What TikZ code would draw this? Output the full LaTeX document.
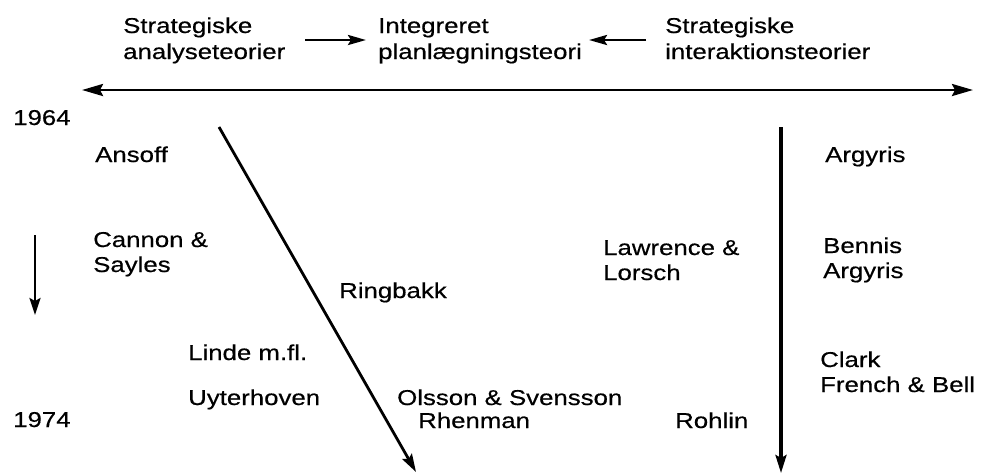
\documentclass[tikz,border=0pt]{standalone}
\usepackage{fontspec}
\setmainfont{Liberation Sans}[FakeStretch=1.2,FakeBold=0.5]
\usetikzlibrary{arrows.meta}
\begin{document}
\begin{tikzpicture}[x=1pt,y=-1pt,
  lbl/.style={anchor=base west,inner sep=0pt,font=\fontsize{21.5}{25}\selectfont},
  tip/.style={-{Stealth[length=18pt,width=11pt,inset=3pt]}},
  arr/.style={line width=2.8pt,tip},
  harr/.style={line width=2.8pt,-{Stealth[length=18pt,width=10pt,inset=3pt]}}]
\useasboundingbox (0,0) rectangle (983,475);
% heading
\node[lbl] (sa1) at (123,33) {Strategiske};
\node[lbl] (sa2) at (123,59) {analyseteorier};
\node[lbl] (ip1) at (378,33) {Integreret};
\node[lbl] (ip2) at (378,59) {planlægningsteori};
\node[lbl] (si1) at (665,33) {Strategiske};
\node[lbl] (si2) at (665,59) {interaktionsteorier};
\coordinate (a1s) at (305,40);
\coordinate (a1e) at (366,40);
\coordinate (a2s) at (646,40);
\coordinate (a2e) at (589,40);
\draw[harr] (a1s) -- (a1e);
\draw[harr] (a2s) -- (a2e);
% double arrow
\coordinate (dl) at (82,90);
\coordinate (dr) at (973,90);
\draw[line width=2.8pt,{Stealth[length=21pt,width=12pt,inset=3pt]}-{Stealth[length=21pt,width=12pt,inset=3pt]}] (dl) -- (dr);
% years
\node[lbl] (y64) at (13,125) {1964};
\node[lbl] (y74) at (13,427) {1974};
\coordinate (ts) at (35,235);
\coordinate (te) at (35,315);
\draw[line width=2.6pt,-{Stealth[length=17pt,width=11pt,inset=3pt]}] (ts) -- (te);
% axes
\coordinate (ds) at (219,127);
\coordinate (de) at (416,472);
\draw[arr] (ds) -- (de);
\coordinate (vs) at (781,127);
\coordinate (ve) at (781,473);
\draw[arr,line width=3.2pt] (vs) -- (ve);
% names
\node[lbl] (ansoff) at (95,162) {Ansoff};
\node[lbl] (argyris) at (825,162) {Argyris};
\node[lbl] (cannon) at (93,247) {Cannon \&};
\node[lbl] (sayles) at (93,272) {Sayles};
\node[lbl] (lawrence) at (603,255) {Lawrence \&};
\node[lbl] (lorsch) at (603,280) {Lorsch};
\node[lbl] (bennis) at (823,253) {Bennis};
\node[lbl] (argyris2) at (823,278) {Argyris};
\node[lbl] (ringbakk) at (339,298) {Ringbakk};
\node[lbl] (linde) at (188,360) {Linde m.fl.};
\node[lbl] (uyter) at (188,405) {Uyterhoven};
\node[lbl] (olsson) at (397,405) {Olsson \& Svensson};
\node[lbl] (rhenman) at (418,428) {Rhenman};
\node[lbl] (rohlin) at (675,428) {Rohlin};
\node[lbl] (clark) at (820,367) {Clark};
\node[lbl] (french) at (820,392) {French \& Bell};
\end{tikzpicture}
\end{document}
